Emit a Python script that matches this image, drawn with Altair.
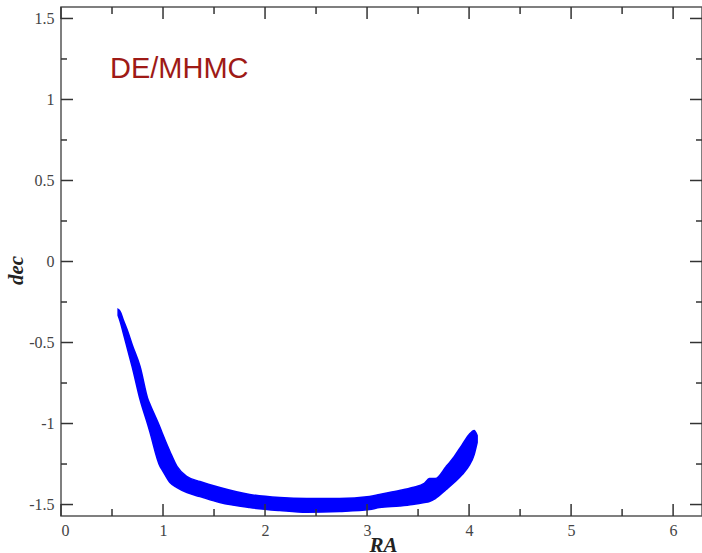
import math
import altair as alt
import pandas as pd

# ---- data (band of MCMC samples: RA vs dec) ----
ra = [0.560, 0.580, 0.609, 0.658, 0.697, 0.775, 0.853, 0.873, 0.971, 0.990,
      1.068, 1.137, 1.235, 1.362, 1.557, 1.850, 2.144, 2.408, 2.730, 3.024,
      3.122, 3.318, 3.445, 3.561, 3.611, 3.669, 3.776, 3.854, 3.933, 4.001,
      4.050, 4.079]
dec_upper = [-0.296, -0.309, -0.358, -0.438, -0.512, -0.648, -0.852, -0.883, -1.025, -1.056,
             -1.173, -1.265, -1.327, -1.358, -1.395, -1.438, -1.457, -1.463, -1.463, -1.451,
             -1.438, -1.414, -1.395, -1.370, -1.340, -1.340, -1.265, -1.204, -1.130, -1.068,
             -1.043, -1.074]
dec_lower = [-0.333, -0.370, -0.438, -0.556, -0.648, -0.852, -1.012, -1.056, -1.265, -1.284,
             -1.364, -1.395, -1.426, -1.451, -1.488, -1.519, -1.537, -1.548, -1.543, -1.531,
             -1.519, -1.509, -1.500, -1.488, -1.481, -1.463, -1.407, -1.364, -1.315, -1.259,
             -1.191, -1.117]

x_major = [0, 1, 2, 3, 4, 5, 6]
x_minor = [0.5, 1.5, 2.5, 3.5, 4.5, 5.5]
y_major = [-1.5, -1, -0.5, 0, 0.5, 1, 1.5]
y_minor = [-1.25, -0.75, -0.25, 0.25, 0.75, 1.25]
label_text = "DE/MHMC"

W, H = 641, 509
xs = alt.Scale(domain=[0, 2 * math.pi], nice=False, zero=False)
ys = alt.Scale(domain=[-math.pi / 2, math.pi / 2], nice=False, zero=False)

x_axis = alt.Axis(
    values=x_major, labelExpr="'' + datum.value",
    ticks=False, tickSize=0, domain=False, grid=False, labelPadding=6,
    titleY=35, titleBaseline="alphabetic", titleX=322)
y_axis = alt.Axis(
    values=y_major, labelExpr="'' + datum.value",
    ticks=False, tickSize=0, domain=False, grid=False, labelPadding=7,
    titleAngle=-90, titleX=-39, titleY=263, titleAlign="center",
    titleBaseline="alphabetic")

band_df = pd.DataFrame({"ra": ra, "lo": dec_lower, "hi": dec_upper})

band = alt.Chart(band_df).mark_area(
    color="#0000ff", stroke="#0000ff", strokeWidth=1.5, interpolate="monotone"
).encode(
    x=alt.X("ra:Q", scale=xs, axis=x_axis, title="RA"),
    y=alt.Y("lo:Q", scale=ys, axis=y_axis, title="dec"),
    y2="hi:Q",
)

TICK_COLOR = "#333333"


def xticks(vals, length):
    d = pd.DataFrame({"v": vals})
    bottom = alt.Chart(d).mark_rule(color=TICK_COLOR, strokeWidth=1.5).encode(
        x=alt.X("v:Q", scale=xs, axis=x_axis, title="RA"),
        y=alt.value(H), y2=alt.value(H - length))
    top = alt.Chart(d).mark_rule(color=TICK_COLOR, strokeWidth=1.5).encode(
        x=alt.X("v:Q", scale=xs, axis=x_axis, title="RA"),
        y=alt.value(0), y2=alt.value(length))
    return [bottom, top]


def yticks(vals, length):
    d = pd.DataFrame({"v": vals})
    left = alt.Chart(d).mark_rule(color=TICK_COLOR, strokeWidth=1.5).encode(
        y=alt.Y("v:Q", scale=ys, axis=y_axis, title="dec"),
        x=alt.value(0), x2=alt.value(length))
    right = alt.Chart(d).mark_rule(color=TICK_COLOR, strokeWidth=1.5).encode(
        y=alt.Y("v:Q", scale=ys, axis=y_axis, title="dec"),
        x=alt.value(W), x2=alt.value(W - length))
    return [left, right]


tick_layers = xticks(x_major, 12) + xticks(x_minor, 7) + yticks(y_major, 12) + yticks(y_minor, 6)

label = alt.Chart(pd.DataFrame({"t": [label_text]})).mark_text(
    font="Liberation Sans", fontSize=29, color="#9e1a16", align="left",
    baseline="alphabetic"
).encode(text="t:N", x=alt.value(49), y=alt.value(71))

chart = alt.layer(band, *tick_layers, label).properties(
    width=W, height=H,
    background="white",
    autosize=alt.AutoSizeParams(type="none"),
    padding={"left": 61, "top": 7, "right": 0, "bottom": 37},
).configure_view(
    stroke="#555555", strokeWidth=1.5
).configure_axis(
    labelFont="Liberation Serif", labelFontSize=16, labelColor="#444444",
    titleFont="Liberation Serif", titleFontSize=21, titleFontStyle="italic",
    titleFontWeight="bold", titleColor="#222222"
)

chart.save("out.html", embed_options={"renderer": "svg", "actions": False})
